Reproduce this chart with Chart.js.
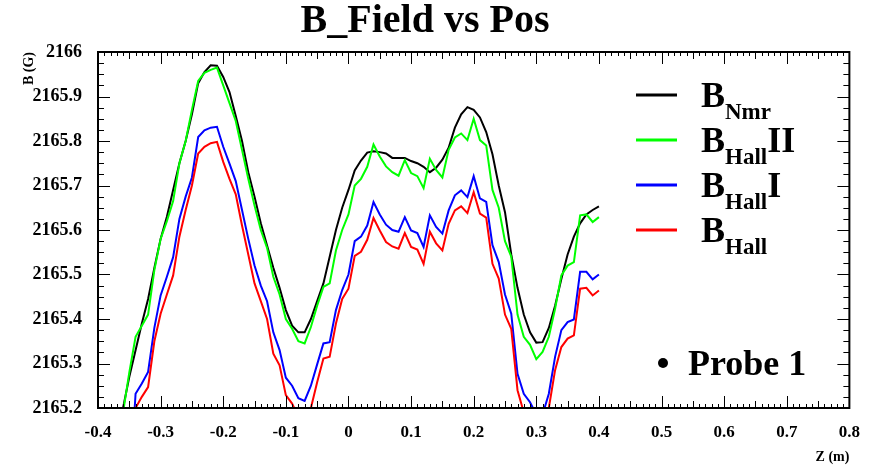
<!DOCTYPE html>
<html>
<head>
<meta charset="utf-8">
<script src="https://cdn.jsdelivr.net/npm/chart.js@4/dist/chart.umd.min.js"></script>
<style>
  html, body { margin: 0; padding: 0; background: #fff; }
  #wrap { width: 874px; height: 470px; }
</style>
</head>
<body>
<div id="wrap"><canvas id="c" width="874" height="470"></canvas></div>
<script>
// ---- data ----
const zPositions = [
  -0.37, -0.36, -0.35, -0.34, -0.33, -0.32, -0.31, -0.30, -0.29, -0.28,
  -0.27, -0.26, -0.25, -0.24, -0.23, -0.22, -0.21, -0.20, -0.19, -0.18,
  -0.17, -0.16, -0.15, -0.14, -0.13, -0.12, -0.11, -0.10, -0.09, -0.08,
  -0.07, -0.06, -0.05, -0.04, -0.03, -0.02, -0.01, 0.00, 0.01, 0.02,
  0.03, 0.04, 0.05, 0.06, 0.07, 0.08, 0.09, 0.10, 0.11, 0.12,
  0.13, 0.14, 0.15, 0.16, 0.17, 0.18, 0.19, 0.20, 0.21, 0.22,
  0.23, 0.24, 0.25, 0.26, 0.27, 0.28, 0.29, 0.30, 0.31, 0.32,
  0.33, 0.34, 0.35, 0.36, 0.37, 0.38, 0.39, 0.40
];
const bNmr = [
  2165.14, 2165.20, 2165.27, 2165.33, 2165.39, 2165.445, 2165.515, 2165.58, 2165.63, 2165.69,
  2165.75, 2165.80, 2165.86, 2165.93, 2165.955, 2165.97, 2165.969, 2165.944, 2165.91, 2165.856,
  2165.80, 2165.73, 2165.675, 2165.615, 2165.565, 2165.515, 2165.47, 2165.42, 2165.385, 2165.37,
  2165.37, 2165.40, 2165.44, 2165.48, 2165.54, 2165.60, 2165.65, 2165.69, 2165.734, 2165.756,
  2165.774, 2165.777, 2165.775, 2165.772, 2165.762, 2165.762, 2165.762, 2165.755, 2165.75, 2165.742,
  2165.73, 2165.74, 2165.758, 2165.785, 2165.83, 2165.86, 2165.876, 2165.87, 2165.853, 2165.82,
  2165.77, 2165.70, 2165.64, 2165.545, 2165.47, 2165.41, 2165.37, 2165.347, 2165.348, 2165.38,
  2165.43, 2165.49, 2165.545, 2165.585, 2165.615, 2165.635, 2165.645, 2165.653
];
const bHallII = [
  2165.12, 2165.19, 2165.28, 2165.36, 2165.385, 2165.41, 2165.51, 2165.58, 2165.62, 2165.665,
  2165.75, 2165.80, 2165.87, 2165.935, 2165.953, 2165.96, 2165.965, 2165.925, 2165.885, 2165.845,
  2165.78, 2165.715, 2165.655, 2165.60, 2165.56, 2165.495, 2165.455, 2165.40, 2165.378, 2165.35,
  2165.345, 2165.382, 2165.43, 2165.472, 2165.48, 2165.554, 2165.60, 2165.635, 2165.70, 2165.715,
  2165.742, 2165.792, 2165.765, 2165.743, 2165.73, 2165.722, 2165.757, 2165.728, 2165.721, 2165.694,
  2165.76, 2165.735, 2165.718, 2165.78, 2165.808, 2165.817, 2165.802, 2165.85, 2165.802, 2165.79,
  2165.69, 2165.65, 2165.575, 2165.54, 2165.41, 2165.36, 2165.342, 2165.31, 2165.326, 2165.36,
  2165.423, 2165.498, 2165.52, 2165.528, 2165.633, 2165.635, 2165.618, 2165.629
];
const bHallI = [
  2164.90, 2164.95, 2165.00, 2165.232, 2165.255, 2165.281, 2165.38, 2165.453, 2165.495, 2165.539,
  2165.625, 2165.675, 2165.718, 2165.809, 2165.824, 2165.83, 2165.832, 2165.787, 2165.749, 2165.71,
  2165.645, 2165.58, 2165.52, 2165.475, 2165.44, 2165.37, 2165.33, 2165.268, 2165.25, 2165.222,
  2165.216, 2165.25, 2165.298, 2165.345, 2165.348, 2165.42, 2165.465, 2165.50, 2165.575, 2165.585,
  2165.61, 2165.663, 2165.635, 2165.612, 2165.60, 2165.596, 2165.629, 2165.599, 2165.593, 2165.562,
  2165.633, 2165.607, 2165.592, 2165.644, 2165.678, 2165.689, 2165.674, 2165.721, 2165.671, 2165.663,
  2165.566, 2165.528, 2165.455, 2165.412, 2165.277, 2165.232, 2165.213, 2165.185, 2165.185, 2165.232,
  2165.315, 2165.375, 2165.393, 2165.399, 2165.506, 2165.506, 2165.489, 2165.50
];
const bHall = [
  2164.85, 2164.95, 2165.08, 2165.20, 2165.225, 2165.247, 2165.35, 2165.412, 2165.455, 2165.498,
  2165.585, 2165.645, 2165.70, 2165.772, 2165.787, 2165.795, 2165.798, 2165.753, 2165.715, 2165.68,
  2165.61, 2165.545, 2165.48, 2165.44, 2165.40, 2165.322, 2165.296, 2165.229, 2165.21, 2165.18,
  2165.175, 2165.20, 2165.258, 2165.311, 2165.315, 2165.39, 2165.445, 2165.468, 2165.542, 2165.551,
  2165.578, 2165.627, 2165.599, 2165.573, 2165.563, 2165.558, 2165.593, 2165.562, 2165.556, 2165.524,
  2165.596, 2165.57, 2165.554, 2165.614, 2165.644, 2165.653, 2165.638, 2165.685, 2165.637, 2165.628,
  2165.524, 2165.491, 2165.41, 2165.378, 2165.24, 2165.19, 2165.16, 2165.14, 2165.15, 2165.20,
  2165.285, 2165.337, 2165.356, 2165.363, 2165.468, 2165.47, 2165.453, 2165.464
];
const xTickValues = [-0.4, -0.3, -0.2, -0.1, 0, 0.1, 0.2, 0.3, 0.4, 0.5, 0.6, 0.7, 0.8];
const yTickValues = [2165.2, 2165.3, 2165.4, 2165.5, 2165.6, 2165.7, 2165.8, 2165.9, 2166];
const seriesSubs = ['Nmr', 'Hall', 'Hall', 'Hall'];
const seriesSuffix = ['', 'II', 'I', ''];
const seriesColors = ['#000000', '#00ff00', '#0000ff', '#ff0000'];
const seriesValues = [bNmr, bHallII, bHallI, bHall];
const probeLabel = 'Probe 1';

const SERIF = "'Liberation Serif', 'DejaVu Serif', serif";
Chart.defaults.font.family = SERIF;
Chart.defaults.font.weight = 'bold';
Chart.defaults.color = '#000';

function pts(vals) { return zPositions.map((z, i) => ({ x: z, y: vals[i] })); }

const datasets = seriesValues.map((vals, i) => ({
  label: 'B' + seriesSubs[i] + seriesSuffix[i],
  data: pts(vals),
  borderColor: seriesColors[i],
  backgroundColor: seriesColors[i],
  borderWidth: 2,
  pointRadius: 0,
  tension: 0,
  fill: false,
  clip: 0,
  order: 4 - i
}));

const frameTicks = {
  id: 'frameTicks',
  afterDatasetsDraw(chart) {
    const { ctx, chartArea: a, scales: { x, y } } = chart;
    ctx.save();
    ctx.strokeStyle = '#000';
    ctx.lineWidth = 1;
    ctx.beginPath();
    const xMin = xTickValues[0], xMax = xTickValues[xTickValues.length - 1];
    const nx = Math.round((xMax - xMin) / 0.01);
    for (let i = 0; i <= nx; i++) {
      const v = xMin + i * 0.01;
      const px = Math.round(x.getPixelForValue(v)) + 0.5;
      const len = i % 10 === 0 ? 12 : (i % 5 === 0 ? 7 : 4);
      ctx.moveTo(px, a.bottom); ctx.lineTo(px, a.bottom - len);
      ctx.moveTo(px, a.top); ctx.lineTo(px, a.top + len);
    }
    const yMin = yTickValues[0], yMax = yTickValues[yTickValues.length - 1];
    const ny = Math.round((yMax - yMin) / 0.025);
    for (let j = 0; j <= ny; j++) {
      const v = yMin + j * 0.025;
      const py = Math.round(y.getPixelForValue(v)) + 0.5;
      const len = j % 4 === 0 ? 12 : 6;
      ctx.moveTo(a.left, py); ctx.lineTo(a.left + len, py);
      ctx.moveTo(a.right, py); ctx.lineTo(a.right - len, py);
    }
    ctx.stroke();
    ctx.lineWidth = 2;
    ctx.strokeRect(a.left, a.top, a.right - a.left, a.bottom - a.top);
    ctx.restore();
  }
};

const legendPlugin = {
  id: 'rootLegend',
  afterDraw(chart) {
    const ctx = chart.ctx;
    ctx.save();
    ctx.textBaseline = 'alphabetic';
    ctx.textAlign = 'left';
    for (let i = 0; i < seriesSubs.length; i++) {
      const base = 107 + i * 45;
      ctx.strokeStyle = seriesColors[i];
      ctx.lineWidth = 3;
      ctx.beginPath();
      ctx.moveTo(636, base - 12);
      ctx.lineTo(677, base - 12);
      ctx.stroke();
      ctx.fillStyle = '#000';
      ctx.font = 'bold 36px ' + SERIF;
      ctx.fillText('B', 701, base);
      const wB = ctx.measureText('B').width;
      ctx.font = 'bold 23px ' + SERIF;
      ctx.fillText(seriesSubs[i], 701 + wB, base + 12);
      const wS = ctx.measureText(seriesSubs[i]).width;
      if (seriesSuffix[i]) {
        ctx.font = 'bold 36px ' + SERIF;
        ctx.fillText(seriesSuffix[i], 701 + wB + wS, base);
      }
    }
    // Probe label
    ctx.fillStyle = '#000';
    ctx.beginPath();
    ctx.arc(663, 363, 5, 0, Math.PI * 2);
    ctx.fill();
    ctx.font = 'bold 36px ' + SERIF;
    ctx.fillText(probeLabel, 688, 375);
    ctx.restore();
  }
};

function fmt(v) { return String(Math.round(v * 10) / 10); }

new Chart(document.getElementById('c'), {
  type: 'line',
  data: { datasets },
  plugins: [frameTicks, legendPlugin],
  options: {
    responsive: false,
    devicePixelRatio: 1,
    animation: false,
    layout: { padding: { left: 0, right: 24, top: 0, bottom: 0 } },
    plugins: {
      legend: { display: false },
      tooltip: { enabled: false },
      title: {
        display: true,
        text: 'B_Field vs Pos',
        color: '#000',
        font: { family: SERIF, size: 40, weight: 'bold', lineHeight: 1.0 },
        padding: { top: 2, bottom: 10 }
      }
    },
    scales: {
      x: {
        type: 'linear',
        min: xTickValues[0],
        max: xTickValues[xTickValues.length - 1],
        grid: { display: false, drawTicks: false },
        border: { display: false },
        afterBuildTicks(scale) { scale.ticks = xTickValues.map(v => ({ value: v })); },
        afterFit(scale) { scale.height = 62; },
        ticks: {
          autoSkip: false, maxRotation: 0, padding: 14,
          font: { size: 17, weight: 'bold', family: SERIF }, color: '#000',
          callback: (v) => fmt(v)
        },
        title: {
          display: true, text: 'Z (m)', align: 'end', color: '#000',
          font: { size: 14, weight: 'bold', family: SERIF },
          padding: { top: 0, bottom: 4 }
        }
      },
      y: {
        type: 'linear',
        min: yTickValues[0],
        max: yTickValues[yTickValues.length - 1],
        grid: { display: false, drawTicks: false },
        border: { display: false },
        afterBuildTicks(scale) { scale.ticks = yTickValues.map(v => ({ value: v })); },
        afterFit(scale) { scale.width = 98; },
        ticks: {
          autoSkip: false, padding: 16,
          font: { size: 18, weight: 'bold', family: SERIF }, color: '#000',
          callback: (v) => fmt(v)
        },
        title: {
          display: true, text: 'B (G)', align: 'end', color: '#000',
          font: { size: 14, weight: 'bold', family: SERIF },
          padding: { top: 21, bottom: 0 }
        }
      }
    }
  }
});
</script>
</body>
</html>
